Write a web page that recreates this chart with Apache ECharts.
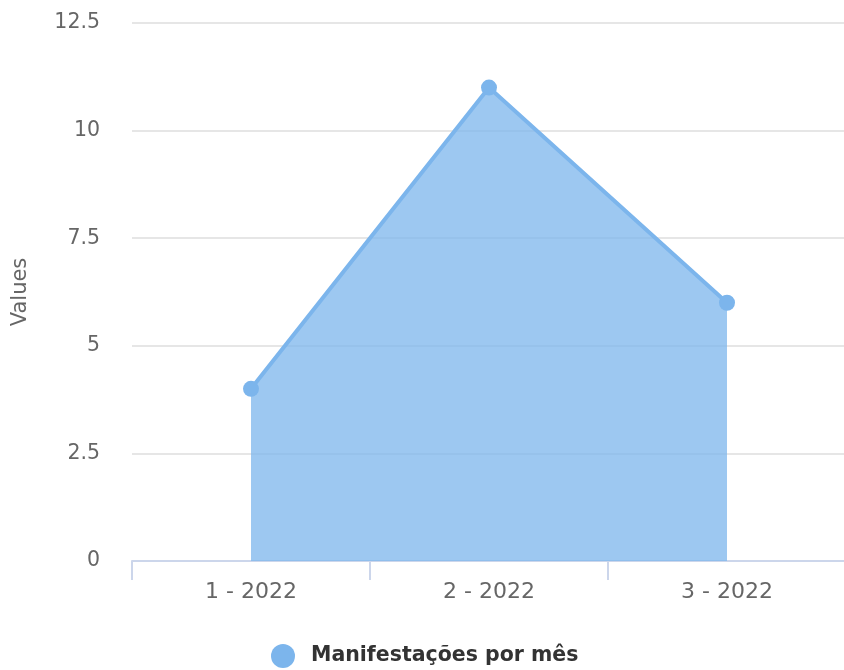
<!DOCTYPE html>
<html>
<head>
<meta charset="utf-8">
<script src="https://cdn.jsdelivr.net/npm/echarts@6/dist/echarts.min.js"></script>
<style>
  html, body { margin: 0; padding: 0; background: #fff; }
  #chart { width: 844px; height: 670px; }
</style>
</head>
<body>
<div id="chart"></div>
<script>
var months = ['1 - 2022', '2 - 2022', '3 - 2022'];
var counts = [4, 11, 6];
var seriesName = 'Manifestações por mês';

var chart = echarts.init(document.getElementById('chart'));
chart.setOption({
  animation: false,
  textStyle: { fontFamily: 'DejaVu Sans' },
  grid: { left: 132, right: -2, top: 23, bottom: 109, outerBoundsMode: 'none' },
  legend: {
    bottom: -3,
    left: 266,
    icon: 'circle',
    itemWidth: 24,
    itemHeight: 24,
    textStyle: {
      color: '#333', fontSize: 20.5, fontWeight: 'bold', fontFamily: 'DejaVu Sans',
      padding: [0, 0, 0, 11]
    },
    data: [seriesName]
  },
  xAxis: {
    type: 'category',
    data: months,
    boundaryGap: true,
    axisLine: { lineStyle: { color: '#ccd6eb', width: 2 } },
    axisTick: { show: true, length: 19, lineStyle: { color: '#ccd6eb', width: 2 } },
    axisLabel: { color: '#666', fontSize: 22, margin: 20 },
    splitLine: { show: false }
  },
  yAxis: {
    type: 'value',
    min: 0,
    max: 12.5,
    interval: 2.5,
    name: 'Values',
    nameLocation: 'middle',
    nameGap: 101,
    nameRotate: 90,
    nameTextStyle: { color: '#666', fontSize: 21 },
    axisLine: { show: false },
    axisTick: { show: false },
    axisLabel: { color: '#666', fontSize: 20.5, margin: 32 },
    splitLine: { lineStyle: { color: '#e6e6e6', width: 2 } }
  },
  series: [{
    name: seriesName,
    type: 'line',
    data: counts,
    color: '#7cb5ec',
    symbol: 'circle',
    symbolSize: 16,
    lineStyle: { width: 4, color: '#7cb5ec' },
    itemStyle: { color: '#7cb5ec' },
    areaStyle: { color: '#7cb5ec', opacity: 0.75 }
  }]
});
</script>
</body>
</html>
